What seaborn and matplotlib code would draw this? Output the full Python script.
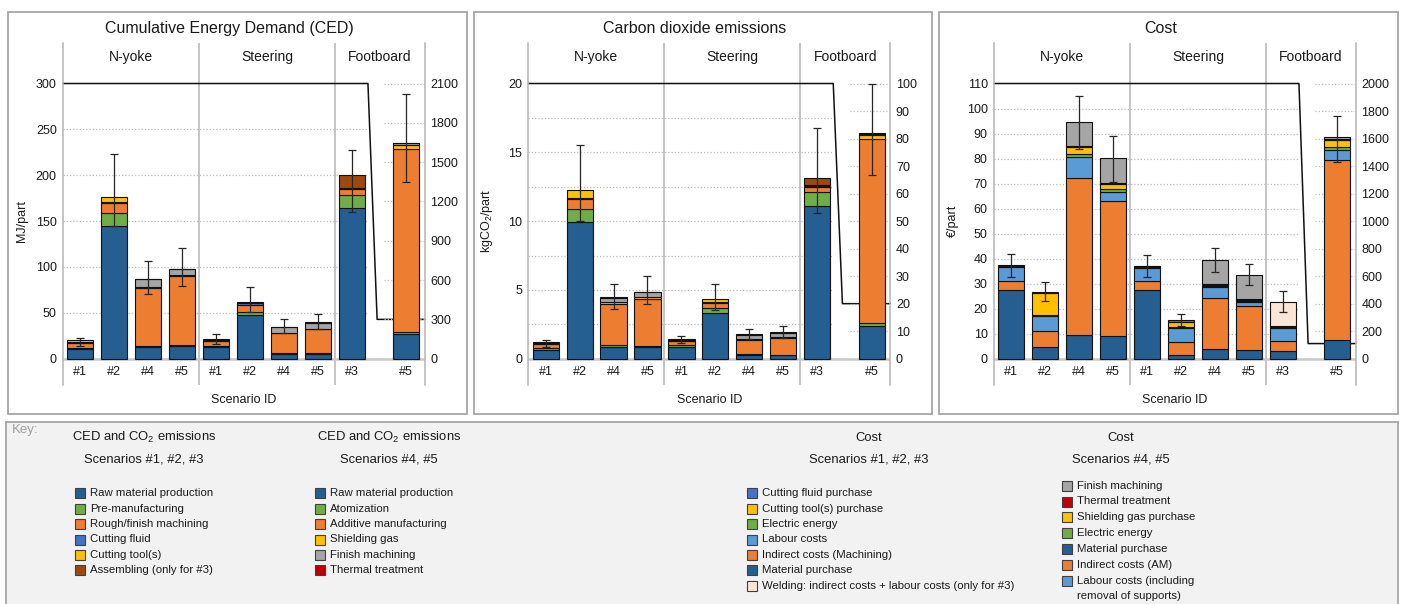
import numpy as np
import matplotlib
matplotlib.use("Agg")
import matplotlib.pyplot as plt
from matplotlib import font_manager
from matplotlib.patches import Rectangle
import seaborn as sns

# ---------------------------------------------------------------
# data
# last bar of every panel (Footboard #5) is read on the right axis
# ---------------------------------------------------------------
groups = ["N-yoke", "Steering", "Footboard"]
group_sizes = [4, 4, 2]
scenarios = ["#1", "#2", "#4", "#5", "#1", "#2", "#4", "#5", "#3", "#5"]

# CED, MJ/part
ced_raw = [11, 145, 12.5, 14, 13, 48, 5, 5, 164.5, 190]
ced_green = [0.8, 13.5, 1.2, 1.0, 1.0, 3.0, 1.0, 1.0, 14, 12]
ced_orange = [5.7, 11.5, 63.5, 74.8, 5.5, 8.0, 21.5, 26.3, 6.5, 1396]
ced_fluid = [1.0, 1.2, 0, 0, 0.8, 1.5, 0, 0, 0.8, 0]
ced_yellow = [1.5, 5.0, 1.5, 1.5, 1.2, 1.5, 0.8, 0.5, 0.8, 35]
ced_grey = [0, 0, 7.8, 6.2, 0, 0, 6.2, 6.5, 0, 10]
ced_assembling = [0, 0, 0, 0, 0, 0, 0, 0, 14, 0]
ced_thermal = [0, 0, 0.5, 0.5, 0, 0, 0.5, 0.5, 0, 6]
ced_err_lo = [13.5, 144.3, 70, 79.6, 15.6, 50.5, 28, 32.7, 159.6, 1349]
ced_err_hi = [23, 222.7, 107, 120.7, 26.9, 78, 43.5, 48.7, 228, 2018]

# CO2, kgCO2/part
co2_raw = [0.65, 9.93, 0.88, 0.83, 0.88, 3.3, 0.3, 0.25, 11.07, 12.0]
co2_green = [0.1, 0.95, 0.08, 0.08, 0.08, 0.35, 0.05, 0.05, 1.08, 0.9]
co2_orange = [0.32, 0.72, 3.04, 3.45, 0.32, 0.42, 1.0, 1.22, 0.35, 66.9]
co2_fluid = [0.06, 0.08, 0, 0, 0.05, 0.05, 0, 0, 0.05, 0]
co2_yellow = [0.07, 0.6, 0.12, 0.1, 0.07, 0.22, 0.05, 0.05, 0.08, 1.6]
co2_grey = [0, 0, 0.3, 0.36, 0, 0, 0.32, 0.33, 0, 0.4]
co2_assembling = [0, 0, 0, 0, 0, 0, 0, 0, 0.52, 0]
co2_thermal = [0, 0, 0.05, 0.06, 0, 0, 0.05, 0.05, 0, 0.3]
co2_err_lo = [0.82, 10.0, 3.6, 3.95, 1.14, 3.56, 1.43, 1.48, 10.58, 66.6]
co2_err_hi = [1.33, 15.5, 5.42, 6.0, 1.62, 5.42, 2.15, 2.4, 16.75, 99.8]

# Cost, EUR/part
cost_material = [27.3, 4.66, 9.6, 9.2, 27.3, 1.6, 3.86, 3.6, 2.9, 135]
cost_indirect = [3.8, 6.6, 62.5, 53.8, 3.8, 5.0, 20.6, 17.5, 4.0, 1312]
cost_labour = [5.7, 6.0, 8.6, 3.8, 5.3, 5.6, 4.1, 1.6, 5.3, 68]
cost_energy = [0.2, 0.2, 1.3, 1.2, 0.3, 0.3, 0.4, 0.4, 0.3, 22]
cost_yellow = [0.2, 8.9, 2.7, 2.0, 0.2, 2.0, 0.6, 0.3, 0.3, 50]
cost_fluid = [0.2, 0.2, 0, 0, 0.3, 0.8, 0, 0, 0.4, 0]
cost_thermal = [0, 0, 0.4, 0.3, 0, 0, 0.3, 0.4, 0, 12]
cost_welding = [0, 0, 0, 0, 0, 0, 0, 0, 9.5, 0]
cost_grey = [0, 0, 9.6, 9.9, 0, 0, 9.7, 9.8, 0, 9]
cost_err_lo = [32.6, 22.9, 83.8, 70.8, 32.6, 12.9, 34.7, 29.3, 18.6, 1432]
cost_err_hi = [41.9, 30.5, 105.1, 89, 41.5, 17.7, 44.4, 37.9, 27.1, 1765]

# key texts
ced13_labels = ["Raw material production", "Pre-manufacturing", "Rough/finish machining",
                "Cutting fluid", "Cutting tool(s)", "Assembling (only for #3)"]
ced45_labels = ["Raw material production", "Atomization", "Additive manufacturing",
                "Shielding gas", "Finish machining", "Thermal treatment"]
cost13_labels = ["Cutting fluid purchase", "Cutting tool(s) purchase", "Electric energy",
                 "Labour costs", "Indirect costs (Machining)", "Material purchase",
                 "Welding: indirect costs + labour costs (only for #3)"]
cost45_labels = ["Finish machining", "Thermal treatment", "Shielding gas purchase",
                 "Electric energy", "Material purchase", "Indirect costs (AM)",
                 "Labour costs (including\nremoval of supports)"]

# ---------------------------------------------------------------
# style
# ---------------------------------------------------------------
C_BLUE = "#255E91"
C_GREEN = "#70AD47"
C_ORANGE = "#ED7D31"
C_FLUID = "#4472C4"
C_YELLOW = "#FFC000"
C_GREY = "#A5A5A5"
C_BROWN = "#9E480E"
C_RED = "#C00000"
C_LBLUE = "#5B9BD5"
C_PEACH = "#FBE5D6"
EDGE = "#111111"
AXCOL = "#B4B4B4"
TXT = "#1a1a1a"

sns.set_theme(style="white")
plt.rcParams["font.family"] = ["Liberation Sans", "DejaVu Sans"]
plt.rcParams["mathtext.fontset"] = "custom"
plt.rcParams["mathtext.rm"] = "Liberation Sans"
plt.rcParams["mathtext.it"] = "Liberation Sans:italic"

# the key is set in a narrow face in the original, use one if there is one
installed = {f.name for f in font_manager.fontManager.ttflist}
narrow = next((n for n in ["Liberation Sans Narrow", "Arial Narrow"] if n in installed), None)
if narrow:
    KEY_FAMILY, KEY_HEAD, KEY_ITEM = [narrow, "Liberation Sans"], 10.6, 9.4
else:
    KEY_FAMILY, KEY_HEAD, KEY_ITEM = ["Liberation Sans", "DejaVu Sans"], 9.4, 8.2

W, H = 1402, 604
fig = plt.figure(figsize=(W / 100, H / 100), dpi=100)


def fx(px):
    return px / W


def fy(py):
    return 1 - py / H


# plot box geometry (pixels)
AX_TOP, AX_BOT, AX_W = 43.3, 385.0, 362.0
F0 = (AX_BOT - 358.7) / (AX_BOT - AX_TOP)   # where 0 sits
F1 = (AX_BOT - 83.5) / (AX_BOT - AX_TOP)    # where the top tick sits
XLIM = (-0.51, 10.15)
BREAK = (8.47, 8.74)

panels = [
    dict(left=63, frame=(8.3, 466.7), title_x=229, title="Cumulative Energy Demand (CED)",
         ylabel="MJ/part", ymax=300, ystep=50, grid=50, rmax=2100, rstep=300,
         layers=[(ced_raw, C_BLUE), (ced_green, C_GREEN), (ced_orange, C_ORANGE),
                 (ced_fluid, C_FLUID), (ced_yellow, C_YELLOW), (ced_grey, C_GREY),
                 (ced_assembling, C_BROWN), (ced_thermal, C_RED)],
         lo=ced_err_lo, hi=ced_err_hi),
    dict(left=528.3, frame=(474, 932.3), title_x=694.7, title="Carbon dioxide emissions",
         ylabel="kgCO$_2$/part", ymax=20, ystep=5, grid=2.5, rmax=100, rstep=10,
         layers=[(co2_raw, C_BLUE), (co2_green, C_GREEN), (co2_orange, C_ORANGE),
                 (co2_fluid, C_FLUID), (co2_yellow, C_YELLOW), (co2_grey, C_GREY),
                 (co2_assembling, C_BROWN), (co2_thermal, C_RED)],
         lo=co2_err_lo, hi=co2_err_hi),
    dict(left=994, frame=(939, 1397.7), title_x=1160.7, title="Cost",
         ylabel="€/part", ymax=110, ystep=10, grid=10, rmax=2000, rstep=200,
         layers=[(cost_material, C_BLUE), (cost_indirect, C_ORANGE), (cost_labour, C_LBLUE),
                 (cost_energy, C_GREEN), (cost_yellow, C_YELLOW), (cost_fluid, C_FLUID),
                 (cost_thermal, C_RED), (cost_welding, C_PEACH), (cost_grey, C_GREY)],
         lo=cost_err_lo, hi=cost_err_hi),
]


def draw_panel(p):
    # white frame around the panel
    x0, x1 = p["frame"]
    fig.patches.append(Rectangle((fx(x0), fy(414)), fx(x1 - x0), 402 / H,
                                 transform=fig.transFigure, facecolor="white",
                                 edgecolor="#A6A6A6", linewidth=1.3, zorder=-5))
    fig.text(fx(p["title_x"]), fy(28.7), p["title"], ha="center", va="center",
             fontsize=11.5, color=TXT)

    ax = fig.add_axes([fx(p["left"]), fy(AX_BOT), fx(AX_W), (AX_BOT - AX_TOP) / H])
    ax.patch.set_alpha(0)
    ax2 = ax.twinx()
    n = len(scenarios)
    x = np.arange(n, dtype=float)
    x[-1] += 0.6

    ymax, rmax = p["ymax"], p["rmax"]
    ratio = rmax / ymax
    R = ymax / (F1 - F0)
    ax.set_ylim(-F0 * R, -F0 * R + R)
    ax2.set_ylim(-F0 * R * ratio, (-F0 * R + R) * ratio)
    ax.set_xlim(XLIM)

    # stacked bars
    bottoms = np.zeros(n)
    for vals, col in p["layers"]:
        v = np.asarray(vals, dtype=float)
        for i in range(n):
            if v[i] <= 0:
                continue
            target = ax2 if i == n - 1 else ax
            target.bar(x[i], v[i], bottom=bottoms[i], width=0.77, color=col,
                       edgecolor=EDGE, linewidth=0.8, zorder=3)
        bottoms += v
    lo = np.clip(bottoms - np.asarray(p["lo"]), 0, None)
    hi = np.clip(np.asarray(p["hi"]) - bottoms, 0, None)
    ekw = dict(fmt="none", ecolor="#262626", elinewidth=0.9, capsize=3.2, capthick=0.9, zorder=5)
    ax.errorbar(x[:-1], bottoms[:-1], yerr=[lo[:-1], hi[:-1]], **ekw)
    ax2.errorbar(x[-1:], bottoms[-1:], yerr=[lo[-1:], hi[-1:]], **ekw)

    # dotted gridlines, left scale and right scale
    dots = (0, (1, 1.6))
    ax.hlines(np.arange(p["grid"], ymax - 1e-9, p["grid"]), XLIM[0], BREAK[0],
              colors="#BDBDBD", linestyles=[dots], linewidth=0.9, zorder=1)
    ax2.hlines(np.arange(p["rstep"], rmax + p["rstep"] / 2, p["rstep"]), 8.95, XLIM[1],
               colors="#BDBDBD", linestyles=[dots], linewidth=0.9, zorder=1)

    # line showing which scale applies
    ax.plot([XLIM[0], BREAK[0], BREAK[1], XLIM[1]], [ymax, ymax, ymax / ratio, ymax / ratio],
            color="#111111", linewidth=1.1, zorder=2, clip_on=False)

    ax.axhline(0, color="#C8C8C8", linewidth=1.8, zorder=2)
    bounds = np.cumsum(group_sizes)[:-1] - 0.5
    for b in bounds:
        ax.axvline(b, color=AXCOL, linewidth=1.1, zorder=1)
    edges = [XLIM[0], *bounds, XLIM[1]]
    for gi, g in enumerate(groups):
        ax.text((edges[gi] + edges[gi + 1]) / 2, 0.959, g, transform=ax.get_xaxis_transform(),
                ha="center", va="center", fontsize=10, color=TXT)

    for s in ["top", "bottom"]:
        ax.spines[s].set_visible(False)
    for s in ["left", "right"]:
        ax.spines[s].set_color(AXCOL)
        ax.spines[s].set_linewidth(1.1)
    for s in ax2.spines.values():
        s.set_visible(False)

    yt = np.arange(0, ymax + p["ystep"] / 2, p["ystep"])
    ax.set_yticks(yt)
    ax.set_yticklabels([f"{t:g}" for t in yt])
    rt = np.arange(0, rmax + p["rstep"] / 2, p["rstep"])
    ax2.set_yticks(rt)
    ax2.set_yticklabels([f"{t:g}" for t in rt])
    ax.tick_params(axis="y", length=0, pad=4.5, labelsize=9, labelcolor=TXT)
    ax2.tick_params(axis="y", length=0, pad=4, labelsize=9, labelcolor=TXT)
    ax.set_xticks([])
    ax.grid(False)
    ax2.grid(False)

    for xi, lab in zip(x, scenarios):
        ax.text(xi, 0.039, lab, transform=ax.get_xaxis_transform(), ha="center",
                va="center", fontsize=9, color=TXT)
    ax.text(0.5, (AX_BOT - 400) / (AX_BOT - AX_TOP), "Scenario ID", transform=ax.transAxes,
            ha="center", va="center", fontsize=9, color=TXT)
    ax.text(-41 / AX_W, (F0 + F1) / 2, p["ylabel"], transform=ax.transAxes, rotation=90,
            ha="center", va="center", fontsize=9, color=TXT)


for p in panels:
    draw_panel(p)

# ---------------------------------------------------------------
# key
# ---------------------------------------------------------------
fig.patches.append(Rectangle((fx(5.7), fy(610)), fx(1392), (610 - 421.7) / H,
                             transform=fig.transFigure, facecolor="#F2F2F2",
                             edgecolor="#A6A6A6", linewidth=1.3, zorder=-5))
fig.text(fx(12), fy(430), "Key:", ha="left", va="center", fontsize=9.5, color="#A0A0A0",
         family=KEY_FAMILY)

key_blocks = [
    dict(head=("CED and CO$_2$ emissions", "Scenarios #1, #2, #3"), cx=144, mx=75, y0=493.3,
         step=15.4, labels=ced13_labels,
         colors=[C_BLUE, C_GREEN, C_ORANGE, C_FLUID, C_YELLOW, C_BROWN]),
    dict(head=("CED and CO$_2$ emissions", "Scenarios #4, #5"), cx=388.8, mx=315, y0=493.3,
         step=15.4, labels=ced45_labels,
         colors=[C_BLUE, C_GREEN, C_ORANGE, C_YELLOW, C_GREY, C_RED]),
    dict(head=("Cost", "Scenarios #1, #2, #3"), cx=868.5, mx=746.7, y0=493.3,
         step=15.4, labels=cost13_labels,
         colors=[C_FLUID, C_YELLOW, C_GREEN, C_LBLUE, C_ORANGE, C_BLUE, C_PEACH]),
    dict(head=("Cost", "Scenarios #4, #5"), cx=1120.7, mx=1061.7, y0=485.7,
         step=15.8, labels=cost45_labels,
         colors=[C_GREY, C_RED, C_YELLOW, C_GREEN, C_BLUE, C_ORANGE, C_LBLUE]),
]

for kb in key_blocks:
    fig.text(fx(kb["cx"]), fy(437.7), kb["head"][0], ha="center", va="center",
             fontsize=KEY_HEAD, color=TXT, family=KEY_FAMILY)
    fig.text(fx(kb["cx"]), fy(459.3), kb["head"][1], ha="center", va="center",
             fontsize=KEY_HEAD, color=TXT, family=KEY_FAMILY)
    row = 0
    for lab, col in zip(kb["labels"], kb["colors"]):
        yy = kb["y0"] + row * kb["step"]
        fig.patches.append(Rectangle((fx(kb["mx"]), fy(yy + 5)), fx(10), 10 / H,
                                     transform=fig.transFigure, facecolor=col,
                                     edgecolor="#404040", linewidth=0.8))
        for k, line in enumerate(lab.split("\n")):
            fig.text(fx(kb["mx"] + 15), fy(yy + k * kb["step"]), line, ha="left",
                     va="center", fontsize=KEY_ITEM, color=TXT, family=KEY_FAMILY)
            row += 1

fig.savefig("out.png", dpi=100)
